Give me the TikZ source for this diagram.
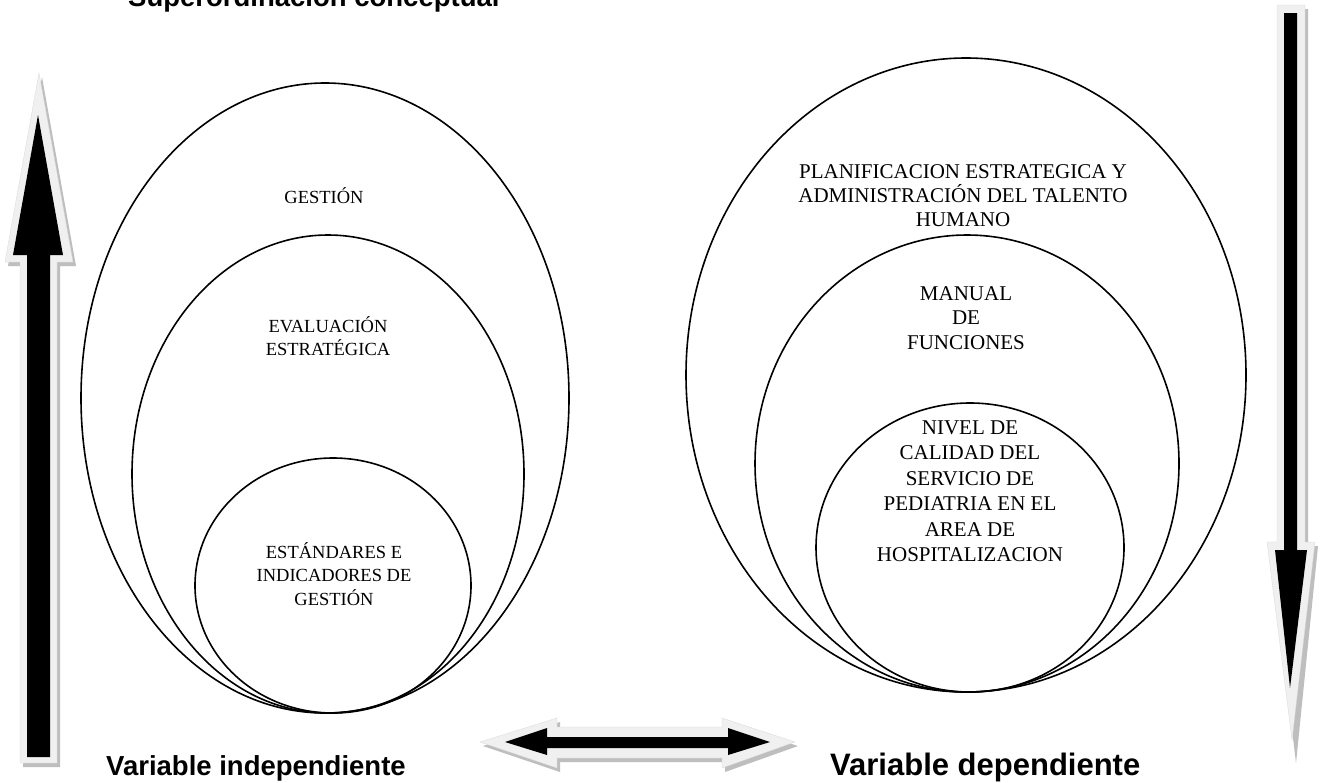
\documentclass[tikz,border=0pt]{standalone}
\usepackage{fontspec}
\setmainfont{Liberation Serif}
\setsansfont{Liberation Sans}
\definecolor{arrlight}{HTML}{F0F0F0}
\definecolor{arrshadow}{HTML}{BEBEBE}
\tikzset{
  ell/.style={draw=black, line width=1.6pt},
  txtl/.style={anchor=base, inner sep=0pt, font=\fontsize{18.5}{22}\selectfont},
  txtr/.style={anchor=base, inner sep=0pt, font=\fontsize{21}{24}\selectfont},
  big/.style={anchor=base west, inner sep=0pt, font=\fontsize{27.5}{30}\selectfont\sffamily\bfseries},
  bigr/.style={anchor=base west, inner sep=0pt, font=\fontsize{31}{34}\selectfont\sffamily\bfseries},
  arrouter/.style={fill=arrlight, draw=arrlight!90!black, line width=0.3pt},
  arrshad/.style={fill=arrshadow},
  arrcore/.style={fill=black}
}
\begin{document}
\begin{tikzpicture}[x=1pt,y=-1pt]
\useasboundingbox (0,0) rectangle (1324,782);
\fill[white] (0,0) rectangle (1324,782);

% title (cut at top edge, as in the reference)
\node[big] (title) at (128,6) {Superordinación conceptual};

% left up arrow
\fill[arrshad] (23,767) -- (23,266) -- (8,266) -- (42,77) -- (76,266) -- (60,266) -- (60,767) -- cycle;
\filldraw[arrouter] (20,763) -- (20,262) -- (5,262) -- (39,73) -- (73,262) -- (57,262) -- (57,763) -- cycle;
\fill[arrcore] (27,757) -- (27,255) -- (13,255) -- (38,115) -- (63,255) -- (50,255) -- (50,757) -- cycle;

% right down arrow
\fill[arrshad] (1280,9) -- (1308,9) -- (1308,546) -- (1318,546) -- (1296,763) -- (1270,546) -- (1280,546) -- cycle;
\filldraw[arrouter] (1277,5) -- (1305,5) -- (1305,542) -- (1315,542) -- (1292,740) -- (1267,542) -- (1277,542) -- cycle;
\fill[arrcore] (1284,13) -- (1297,13) -- (1297,550) -- (1307,550) -- (1290,688) -- (1275,550) -- (1284,550) -- cycle;

% horizontal double arrow
\fill[arrshad] (483,746) -- (560,722) -- (560,731) -- (725,731) -- (725,722) -- (798,746) -- (725,772) -- (725,762) -- (560,762) -- (560,772) -- cycle;
\filldraw[arrouter] (480,742) -- (557,718) -- (557,727) -- (722,727) -- (722,718) -- (795,742) -- (722,768) -- (722,758) -- (557,758) -- (557,768) -- cycle;
\fill[arrcore] (505,742) -- (547,728) -- (547,737) -- (728,737) -- (728,728) -- (770,742) -- (728,755) -- (728,748) -- (547,748) -- (547,755) -- cycle;

% left ellipses
\draw[ell] (325,398) ellipse [x radius=244, y radius=315];
\draw[ell] (328,474) ellipse [x radius=196, y radius=239];
\draw[ell] (333,585.5) ellipse [x radius=138, y radius=127.5];

% right ellipses
\draw[ell] (966,375) ellipse [x radius=280, y radius=317];
\draw[ell] (967,463.5) ellipse [x radius=212, y radius=228.5];
\draw[ell] (970,547.5) ellipse [x radius=154, y radius=144.5];

% left texts
\node[txtl] (g1) at (324,203) {GESTIÓN};
\node[txtl] (e1) at (328,332) {EVALUACIÓN};
\node[txtl] (e2) at (328,355.5) {ESTRATÉGICA};
\node[txtl] (s1) at (334,558) {ESTÁNDARES E};
\node[txtl] (s2) at (334,581.5) {INDICADORES DE};
\node[txtl] (s3) at (334,605) {GESTIÓN};

% right texts
\node[txtr] (p1) at (963,178) {PLANIFICACION ESTRATEGICA Y};
\node[txtr] (p2) at (963,202.3) {ADMINISTRACIÓN DEL TALENTO};
\node[txtr] (p3) at (963,226.6) {HUMANO};
\node[txtr] (m1) at (966,300) {MANUAL};
\node[txtr] (m2) at (966,324.5) {DE};
\node[txtr] (m3) at (966,349) {FUNCIONES};
\node[txtr] (n1) at (970,434) {NIVEL DE};
\node[txtr] (n2) at (970,459.5) {CALIDAD DEL};
\node[txtr] (n3) at (970,485) {SERVICIO DE};
\node[txtr] (n4) at (970,510.5) {PEDIATRIA EN EL};
\node[txtr] (n5) at (970,536) {AREA DE};
\node[txtr] (n6) at (970,561.5) {HOSPITALIZACION};

% bottom labels
\node[big] (vi) at (106,775) {Variable independiente};
\node[bigr] (vd) at (830,775) {Variable dependiente};
\end{tikzpicture}
\end{document}
